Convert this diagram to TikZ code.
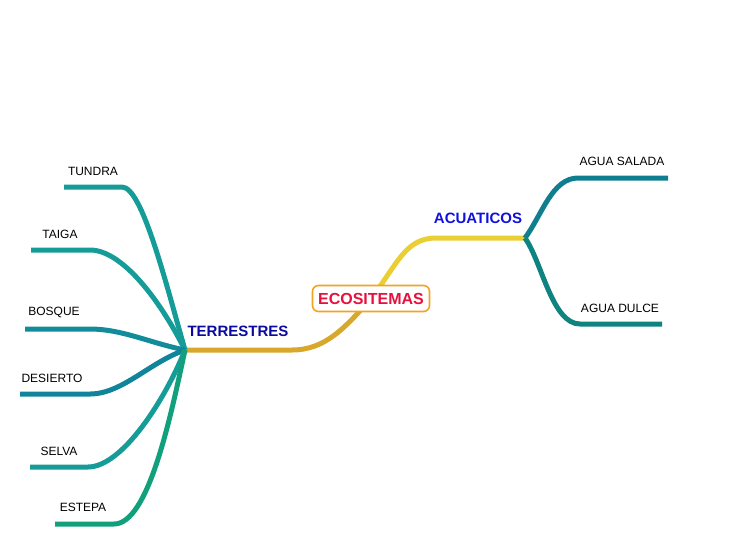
\documentclass[tikz,border=0pt]{standalone}
\usepackage{fontspec}
\setmainfont{Liberation Sans}
\definecolor{cTun}{HTML}{169C98}
\definecolor{cBos}{HTML}{128B9B}
\definecolor{cDes}{HTML}{10849A}
\definecolor{cEst}{HTML}{12A07C}
\definecolor{cSal}{HTML}{0F7F8F}
\definecolor{cDul}{HTML}{0E8380}
\definecolor{cGold}{HTML}{D8A82A}
\definecolor{cYel}{HTML}{E9CF33}
\definecolor{cBlueT}{HTML}{0A0AA0}
\definecolor{cBlueA}{HTML}{1010E0}
\definecolor{cRed}{HTML}{E8103C}
\definecolor{cOrange}{HTML}{F5A31E}
\begin{document}
\begin{tikzpicture}[x=1pt,y=-1pt,
  br/.style={line width=5pt},
  lbl/.style={font=\fontsize{12}{14}\selectfont, inner sep=0pt, text=black},
  sub/.style={font=\fontsize{15}{17}\selectfont\bfseries, inner sep=0pt},
  root/.style={draw=cOrange, line width=1.6pt, fill=white, rounded corners=6pt,
    minimum width=117pt, minimum height=26pt, inner sep=0pt,
    font=\fontsize{16}{18}\selectfont\bfseries, text=cRed}]
\useasboundingbox (0,0) rectangle (741,547);

% coordinates
\coordinate (ecoC) at (371,298.5);
\coordinate (hubT) at (185,350);
\coordinate (hubA) at (525,238);
\coordinate (tT) at (64,187);
\coordinate (tTa) at (31,250);
\coordinate (tB) at (25,329);
\coordinate (tD) at (20,394);
\coordinate (tS) at (30,467);
\coordinate (tE) at (55,524);
\coordinate (tAS) at (668,178);
\coordinate (tAD) at (662,324);

% main branches (behind root)
\draw[br, cGold] (hubT) -- (292,350) .. controls (325,350) and (345,328) .. (ecoC);
\draw[br, cYel] (ecoC) .. controls (397,265) and (405,238) .. (436,238) -- (hubA);
\node[root] (eco) at (ecoC) {ECOSITEMAS};

% left branches
\draw[br, cTun] (hubT) .. controls (165,280) and (142,187) .. (122,187) -- (tT);
\draw[br, cTun] (hubT) .. controls (160,300) and (122,250) .. (90,250) -- (tTa);
\draw[br, cBos] (hubT) .. controls (150,343) and (122,329) .. (90,329) -- (tB);
\draw[br, cDes] (hubT) .. controls (150,362) and (122,394) .. (90,394) -- (tD);
\draw[br, cTun] (hubT) .. controls (165,400) and (122,467) .. (88,467) -- (tS);
\draw[br, cEst] (hubT) .. controls (170,420) and (148,524) .. (114,524) -- (tE);

% right branches
\draw[br, cSal] (hubA) .. controls (542,215) and (552,178) .. (578,178) -- (tAS);
\draw[br, cDul] (hubA) .. controls (542,262) and (552,324) .. (580,324) -- (tAD);

% labels
\node[sub, text=cBlueT] (lT) at (238,331) {TERRESTRES};
\node[sub, text=cBlueA] (lA) at (478,218.5) {ACUATICOS};
\node[lbl] (lTun) at (93,171.5) {TUNDRA};
\node[lbl] (lTai) at (60,234.5) {TAIGA};
\node[lbl] (lBos) at (54,312.5) {BOSQUE};
\node[lbl] (lDes) at (52,378) {DESIERTO};
\node[lbl] (lSel) at (59,451.5) {SELVA};
\node[lbl] (lEst) at (83,507.5) {ESTEPA};
\node[lbl] (lAS) at (622,161.5) {AGUA SALADA};
\node[lbl] (lAD) at (620,308) {AGUA DULCE};
\end{tikzpicture}
\end{document}
